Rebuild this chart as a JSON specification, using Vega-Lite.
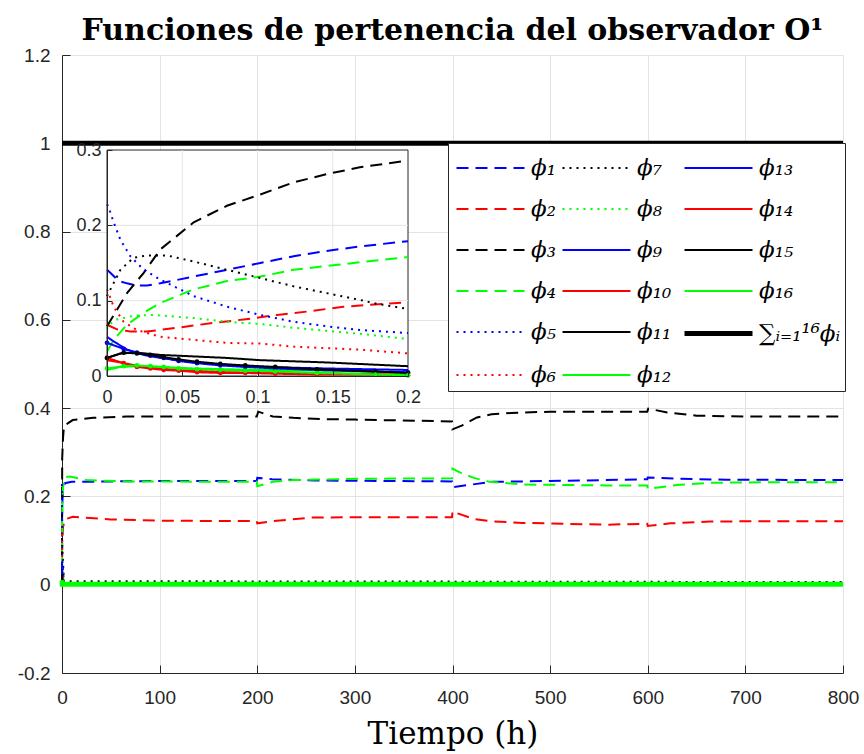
{
  "$schema": "https://vega.github.io/schema/vega-lite/v6.json",
  "width": 781,
  "height": 618,
  "autosize": {"type": "none"},
  "padding": {"left": 62, "top": 55, "right": 21, "bottom": 81},
  "background": "white",
  "title": {"text": "Funciones de pertenencia del observador O¹", "font": "DejaVu Serif", "fontSize": 30, "fontWeight": "bold", "color": "#000000", "anchor": "middle", "offset": 0},
  "config": {
    "view": {"stroke": null},
    "axis": {"domainColor": "#262626", "tickColor": "#262626", "labelColor": "#262626", "labelFont": "Liberation Sans", "labelFontSize": 19, "titleFont": "DejaVu Serif", "titleFontWeight": "normal", "titleColor": "#000000", "titleFontSize": 31, "gridColor": "#e3e3e3", "tickSize": -8, "labelPadding": 20, "labelOverlap": false, "labelFlush": false}
  },
  "datasets": {
    "main": [
      {"s": "ϕ₁", "t": 0, "v": 0.141}, {"s": "ϕ₁", "t": 0.2, "v": 0.179}, {"s": "ϕ₁", "t": 1, "v": 0.215}, {"s": "ϕ₁", "t": 3, "v": 0.23}, {"s": "ϕ₁", "t": 10, "v": 0.233}, {"s": "ϕ₁", "t": 100, "v": 0.235}, {"s": "ϕ₁", "t": 199.5, "v": 0.235}, {"s": "ϕ₁", "t": 200, "v": 0.242}, {"s": "ϕ₁", "t": 215, "v": 0.239}, {"s": "ϕ₁", "t": 260, "v": 0.236}, {"s": "ϕ₁", "t": 399.5, "v": 0.234}, {"s": "ϕ₁", "t": 400, "v": 0.221}, {"s": "ϕ₁", "t": 420, "v": 0.227}, {"s": "ϕ₁", "t": 440, "v": 0.233}, {"s": "ϕ₁", "t": 470, "v": 0.234}, {"s": "ϕ₁", "t": 530, "v": 0.236}, {"s": "ϕ₁", "t": 599.5, "v": 0.239}, {"s": "ϕ₁", "t": 600, "v": 0.243}, {"s": "ϕ₁", "t": 630, "v": 0.24}, {"s": "ϕ₁", "t": 680, "v": 0.238}, {"s": "ϕ₁", "t": 800, "v": 0.237},
      {"s": "ϕ₂", "t": 0, "v": 0.068}, {"s": "ϕ₂", "t": 0.2, "v": 0.098}, {"s": "ϕ₂", "t": 1, "v": 0.13}, {"s": "ϕ₂", "t": 3, "v": 0.148}, {"s": "ϕ₂", "t": 11, "v": 0.154}, {"s": "ϕ₂", "t": 50, "v": 0.148}, {"s": "ϕ₂", "t": 100, "v": 0.145}, {"s": "ϕ₂", "t": 199.5, "v": 0.144}, {"s": "ϕ₂", "t": 200, "v": 0.139}, {"s": "ϕ₂", "t": 216, "v": 0.144}, {"s": "ϕ₂", "t": 255, "v": 0.152}, {"s": "ϕ₂", "t": 300, "v": 0.153}, {"s": "ϕ₂", "t": 399.5, "v": 0.153}, {"s": "ϕ₂", "t": 400, "v": 0.167}, {"s": "ϕ₂", "t": 406, "v": 0.161}, {"s": "ϕ₂", "t": 422, "v": 0.149}, {"s": "ϕ₂", "t": 438, "v": 0.144}, {"s": "ϕ₂", "t": 472, "v": 0.14}, {"s": "ϕ₂", "t": 557, "v": 0.136}, {"s": "ϕ₂", "t": 599.5, "v": 0.138}, {"s": "ϕ₂", "t": 600, "v": 0.133}, {"s": "ϕ₂", "t": 623, "v": 0.139}, {"s": "ϕ₂", "t": 664, "v": 0.143}, {"s": "ϕ₂", "t": 715, "v": 0.144}, {"s": "ϕ₂", "t": 800, "v": 0.144},
      {"s": "ϕ₃", "t": 0, "v": 0.066}, {"s": "ϕ₃", "t": 0.2, "v": 0.286}, {"s": "ϕ₃", "t": 1, "v": 0.33}, {"s": "ϕ₃", "t": 2, "v": 0.36}, {"s": "ϕ₃", "t": 11, "v": 0.373}, {"s": "ϕ₃", "t": 32, "v": 0.378}, {"s": "ϕ₃", "t": 66, "v": 0.381}, {"s": "ϕ₃", "t": 199.5, "v": 0.381}, {"s": "ϕ₃", "t": 201, "v": 0.392}, {"s": "ϕ₃", "t": 216, "v": 0.381}, {"s": "ϕ₃", "t": 237, "v": 0.378}, {"s": "ϕ₃", "t": 271, "v": 0.375}, {"s": "ϕ₃", "t": 300, "v": 0.374}, {"s": "ϕ₃", "t": 399.5, "v": 0.37}, {"s": "ϕ₃", "t": 400, "v": 0.352}, {"s": "ϕ₃", "t": 410, "v": 0.361}, {"s": "ϕ₃", "t": 425, "v": 0.379}, {"s": "ϕ₃", "t": 440, "v": 0.386}, {"s": "ϕ₃", "t": 460, "v": 0.389}, {"s": "ϕ₃", "t": 500, "v": 0.392}, {"s": "ϕ₃", "t": 599.5, "v": 0.392}, {"s": "ϕ₃", "t": 600.5, "v": 0.399}, {"s": "ϕ₃", "t": 620, "v": 0.39}, {"s": "ϕ₃", "t": 650, "v": 0.383}, {"s": "ϕ₃", "t": 700, "v": 0.381}, {"s": "ϕ₃", "t": 800, "v": 0.381},
      {"s": "ϕ₄", "t": 0, "v": 0.032}, {"s": "ϕ₄", "t": 0.2, "v": 0.158}, {"s": "ϕ₄", "t": 1, "v": 0.22}, {"s": "ϕ₄", "t": 3, "v": 0.244}, {"s": "ϕ₄", "t": 8, "v": 0.245}, {"s": "ϕ₄", "t": 25, "v": 0.237}, {"s": "ϕ₄", "t": 66, "v": 0.234}, {"s": "ϕ₄", "t": 199.5, "v": 0.233}, {"s": "ϕ₄", "t": 200, "v": 0.223}, {"s": "ϕ₄", "t": 216, "v": 0.233}, {"s": "ϕ₄", "t": 237, "v": 0.237}, {"s": "ϕ₄", "t": 305, "v": 0.24}, {"s": "ϕ₄", "t": 399.5, "v": 0.241}, {"s": "ϕ₄", "t": 400, "v": 0.263}, {"s": "ϕ₄", "t": 408, "v": 0.254}, {"s": "ϕ₄", "t": 422, "v": 0.242}, {"s": "ϕ₄", "t": 438, "v": 0.233}, {"s": "ϕ₄", "t": 472, "v": 0.227}, {"s": "ϕ₄", "t": 557, "v": 0.225}, {"s": "ϕ₄", "t": 599.5, "v": 0.225}, {"s": "ϕ₄", "t": 600, "v": 0.217}, {"s": "ϕ₄", "t": 630, "v": 0.226}, {"s": "ϕ₄", "t": 664, "v": 0.231}, {"s": "ϕ₄", "t": 715, "v": 0.232}, {"s": "ϕ₄", "t": 800, "v": 0.232},
      {"s": "ϕ₅", "t": 0, "v": 0.228}, {"s": "ϕ₅", "t": 0.2, "v": 0.057}, {"s": "ϕ₅", "t": 2, "v": 0.004}, {"s": "ϕ₅", "t": 800, "v": 0.003},
      {"s": "ϕ₆", "t": 0, "v": 0.115}, {"s": "ϕ₆", "t": 0.2, "v": 0.03}, {"s": "ϕ₆", "t": 2, "v": 0.003}, {"s": "ϕ₆", "t": 800, "v": 0.002},
      {"s": "ϕ₇", "t": 0, "v": 0.106}, {"s": "ϕ₇", "t": 0.2, "v": 0.089}, {"s": "ϕ₇", "t": 2, "v": 0.008}, {"s": "ϕ₇", "t": 800, "v": 0.006},
      {"s": "ϕ₈", "t": 0, "v": 0.062}, {"s": "ϕ₈", "t": 0.2, "v": 0.049}, {"s": "ϕ₈", "t": 2, "v": 0.004}, {"s": "ϕ₈", "t": 800, "v": 0.003},
      {"s": "ϕ₉", "t": 0, "v": 0.052}, {"s": "ϕ₉", "t": 0.2, "v": 0.008}, {"s": "ϕ₉", "t": 2, "v": 0.001}, {"s": "ϕ₉", "t": 800, "v": 0.001},
      {"s": "ϕ₁₀", "t": 0, "v": 0.021}, {"s": "ϕ₁₀", "t": 0.2, "v": 0.002}, {"s": "ϕ₁₀", "t": 2, "v": 0.001}, {"s": "ϕ₁₀", "t": 800, "v": 0.001},
      {"s": "ϕ₁₁", "t": 0, "v": 0.024}, {"s": "ϕ₁₁", "t": 0.2, "v": 0.013}, {"s": "ϕ₁₁", "t": 2, "v": 0.002}, {"s": "ϕ₁₁", "t": 800, "v": 0.002},
      {"s": "ϕ₁₂", "t": 0, "v": 0.008}, {"s": "ϕ₁₂", "t": 0.2, "v": 0.004}, {"s": "ϕ₁₂", "t": 2, "v": 0.001}, {"s": "ϕ₁₂", "t": 800, "v": 0.001},
      {"s": "ϕ₁₃", "t": 0, "v": 0.044}, {"s": "ϕ₁₃", "t": 0.2, "v": 0.005}, {"s": "ϕ₁₃", "t": 2, "v": 0.001}, {"s": "ϕ₁₃", "t": 800, "v": 0.001},
      {"s": "ϕ₁₄", "t": 0, "v": 0.024}, {"s": "ϕ₁₄", "t": 0.2, "v": 0.001}, {"s": "ϕ₁₄", "t": 2, "v": 0.001}, {"s": "ϕ₁₄", "t": 800, "v": 0.001},
      {"s": "ϕ₁₅", "t": 0, "v": 0.024}, {"s": "ϕ₁₅", "t": 0.2, "v": 0.004}, {"s": "ϕ₁₅", "t": 2, "v": 0.001}, {"s": "ϕ₁₅", "t": 800, "v": 0.001},
      {"s": "ϕ₁₆", "t": 0, "v": 0.01}, {"s": "ϕ₁₆", "t": 0.2, "v": 0.001}, {"s": "ϕ₁₆", "t": 2, "v": 0.001}, {"s": "ϕ₁₆", "t": 800, "v": 0.001},
      {"s": "∑ᵢ₌₁¹⁶ϕᵢ", "t": 0, "v": 1}, {"s": "∑ᵢ₌₁¹⁶ϕᵢ", "t": 800, "v": 1}
    ],
    "ins": [
      {"s": "ϕ₁", "t": 0, "v": 0.141}, {"s": "ϕ₁", "t": 0.0022, "v": 0.137}, {"s": "ϕ₁", "t": 0.0078, "v": 0.126}, {"s": "ϕ₁", "t": 0.0133, "v": 0.123}, {"s": "ϕ₁", "t": 0.02, "v": 0.12}, {"s": "ϕ₁", "t": 0.0266, "v": 0.12}, {"s": "ϕ₁", "t": 0.0354, "v": 0.123}, {"s": "ϕ₁", "t": 0.0576, "v": 0.132}, {"s": "ϕ₁", "t": 0.0797, "v": 0.141}, {"s": "ϕ₁", "t": 0.1019, "v": 0.15}, {"s": "ϕ₁", "t": 0.124, "v": 0.159}, {"s": "ϕ₁", "t": 0.146, "v": 0.166}, {"s": "ϕ₁", "t": 0.168, "v": 0.172}, {"s": "ϕ₁", "t": 0.2, "v": 0.179},
      {"s": "ϕ₂", "t": 0, "v": 0.068}, {"s": "ϕ₂", "t": 0.0066, "v": 0.062}, {"s": "ϕ₂", "t": 0.0155, "v": 0.059}, {"s": "ϕ₂", "t": 0.0266, "v": 0.059}, {"s": "ϕ₂", "t": 0.0465, "v": 0.064}, {"s": "ϕ₂", "t": 0.0687, "v": 0.07}, {"s": "ϕ₂", "t": 0.0908, "v": 0.075}, {"s": "ϕ₂", "t": 0.113, "v": 0.081}, {"s": "ϕ₂", "t": 0.135, "v": 0.086}, {"s": "ϕ₂", "t": 0.157, "v": 0.092}, {"s": "ϕ₂", "t": 0.2, "v": 0.098},
      {"s": "ϕ₃", "t": 0, "v": 0.066}, {"s": "ϕ₃", "t": 0.0133, "v": 0.11}, {"s": "ϕ₃", "t": 0.0244, "v": 0.137}, {"s": "ϕ₃", "t": 0.0354, "v": 0.168}, {"s": "ϕ₃", "t": 0.0576, "v": 0.204}, {"s": "ϕ₃", "t": 0.0797, "v": 0.226}, {"s": "ϕ₃", "t": 0.1019, "v": 0.241}, {"s": "ϕ₃", "t": 0.124, "v": 0.257}, {"s": "ϕ₃", "t": 0.146, "v": 0.268}, {"s": "ϕ₃", "t": 0.168, "v": 0.277}, {"s": "ϕ₃", "t": 0.2, "v": 0.286},
      {"s": "ϕ₄", "t": 0, "v": 0.032}, {"s": "ϕ₄", "t": 0.0044, "v": 0.048}, {"s": "ϕ₄", "t": 0.0133, "v": 0.068}, {"s": "ϕ₄", "t": 0.0244, "v": 0.084}, {"s": "ϕ₄", "t": 0.0354, "v": 0.097}, {"s": "ϕ₄", "t": 0.0576, "v": 0.115}, {"s": "ϕ₄", "t": 0.0797, "v": 0.126}, {"s": "ϕ₄", "t": 0.1019, "v": 0.132}, {"s": "ϕ₄", "t": 0.124, "v": 0.141}, {"s": "ϕ₄", "t": 0.146, "v": 0.146}, {"s": "ϕ₄", "t": 0.168, "v": 0.151}, {"s": "ϕ₄", "t": 0.2, "v": 0.158},
      {"s": "ϕ₅", "t": 0, "v": 0.228}, {"s": "ϕ₅", "t": 0.0011, "v": 0.224}, {"s": "ϕ₅", "t": 0.0044, "v": 0.204}, {"s": "ϕ₅", "t": 0.0089, "v": 0.181}, {"s": "ϕ₅", "t": 0.0155, "v": 0.159}, {"s": "ϕ₅", "t": 0.0244, "v": 0.141}, {"s": "ϕ₅", "t": 0.0354, "v": 0.128}, {"s": "ϕ₅", "t": 0.0576, "v": 0.106}, {"s": "ϕ₅", "t": 0.0797, "v": 0.092}, {"s": "ϕ₅", "t": 0.1019, "v": 0.081}, {"s": "ϕ₅", "t": 0.124, "v": 0.072}, {"s": "ϕ₅", "t": 0.146, "v": 0.066}, {"s": "ϕ₅", "t": 0.168, "v": 0.061}, {"s": "ϕ₅", "t": 0.2, "v": 0.057},
      {"s": "ϕ₆", "t": 0, "v": 0.115}, {"s": "ϕ₆", "t": 0.0011, "v": 0.11}, {"s": "ϕ₆", "t": 0.0044, "v": 0.092}, {"s": "ϕ₆", "t": 0.011, "v": 0.072}, {"s": "ϕ₆", "t": 0.02, "v": 0.061}, {"s": "ϕ₆", "t": 0.0354, "v": 0.052}, {"s": "ϕ₆", "t": 0.0576, "v": 0.048}, {"s": "ϕ₆", "t": 0.0797, "v": 0.044}, {"s": "ϕ₆", "t": 0.1019, "v": 0.043}, {"s": "ϕ₆", "t": 0.124, "v": 0.039}, {"s": "ϕ₆", "t": 0.146, "v": 0.037}, {"s": "ϕ₆", "t": 0.168, "v": 0.035}, {"s": "ϕ₆", "t": 0.2, "v": 0.03},
      {"s": "ϕ₇", "t": 0, "v": 0.106}, {"s": "ϕ₇", "t": 0.0089, "v": 0.141}, {"s": "ϕ₇", "t": 0.0177, "v": 0.157}, {"s": "ϕ₇", "t": 0.0266, "v": 0.16}, {"s": "ϕ₇", "t": 0.0399, "v": 0.16}, {"s": "ϕ₇", "t": 0.0576, "v": 0.152}, {"s": "ϕ₇", "t": 0.0797, "v": 0.141}, {"s": "ϕ₇", "t": 0.1019, "v": 0.13}, {"s": "ϕ₇", "t": 0.124, "v": 0.119}, {"s": "ϕ₇", "t": 0.146, "v": 0.11}, {"s": "ϕ₇", "t": 0.168, "v": 0.101}, {"s": "ϕ₇", "t": 0.179, "v": 0.096}, {"s": "ϕ₇", "t": 0.2, "v": 0.089},
      {"s": "ϕ₈", "t": 0, "v": 0.062}, {"s": "ϕ₈", "t": 0.0011, "v": 0.068}, {"s": "ϕ₈", "t": 0.0066, "v": 0.075}, {"s": "ϕ₈", "t": 0.0177, "v": 0.08}, {"s": "ϕ₈", "t": 0.031, "v": 0.081}, {"s": "ϕ₈", "t": 0.0576, "v": 0.077}, {"s": "ϕ₈", "t": 0.0797, "v": 0.072}, {"s": "ϕ₈", "t": 0.1019, "v": 0.069}, {"s": "ϕ₈", "t": 0.124, "v": 0.064}, {"s": "ϕ₈", "t": 0.146, "v": 0.06}, {"s": "ϕ₈", "t": 0.168, "v": 0.056}, {"s": "ϕ₈", "t": 0.2, "v": 0.049},
      {"s": "ϕ₉", "t": 0, "v": 0.052}, {"s": "ϕ₉", "t": 0.0044, "v": 0.046}, {"s": "ϕ₉", "t": 0.0133, "v": 0.035}, {"s": "ϕ₉", "t": 0.0244, "v": 0.028}, {"s": "ϕ₉", "t": 0.0354, "v": 0.024}, {"s": "ϕ₉", "t": 0.0576, "v": 0.018}, {"s": "ϕ₉", "t": 0.0797, "v": 0.015}, {"s": "ϕ₉", "t": 0.1019, "v": 0.012}, {"s": "ϕ₉", "t": 0.146, "v": 0.01}, {"s": "ϕ₉", "t": 0.2, "v": 0.008},
      {"s": "ϕ₁₀", "t": 0, "v": 0.021}, {"s": "ϕ₁₀", "t": 0.0089, "v": 0.018}, {"s": "ϕ₁₀", "t": 0.0244, "v": 0.012}, {"s": "ϕ₁₀", "t": 0.0465, "v": 0.008}, {"s": "ϕ₁₀", "t": 0.0797, "v": 0.005}, {"s": "ϕ₁₀", "t": 0.124, "v": 0.004}, {"s": "ϕ₁₀", "t": 0.2, "v": 0.002},
      {"s": "ϕ₁₁", "t": 0, "v": 0.024}, {"s": "ϕ₁₁", "t": 0.0089, "v": 0.03}, {"s": "ϕ₁₁", "t": 0.02, "v": 0.031}, {"s": "ϕ₁₁", "t": 0.0354, "v": 0.028}, {"s": "ϕ₁₁", "t": 0.0576, "v": 0.026}, {"s": "ϕ₁₁", "t": 0.0797, "v": 0.024}, {"s": "ϕ₁₁", "t": 0.1019, "v": 0.021}, {"s": "ϕ₁₁", "t": 0.146, "v": 0.018}, {"s": "ϕ₁₁", "t": 0.2, "v": 0.013},
      {"s": "ϕ₁₂", "t": 0, "v": 0.008}, {"s": "ϕ₁₂", "t": 0.0089, "v": 0.012}, {"s": "ϕ₁₂", "t": 0.02, "v": 0.013}, {"s": "ϕ₁₂", "t": 0.0354, "v": 0.012}, {"s": "ϕ₁₂", "t": 0.0576, "v": 0.01}, {"s": "ϕ₁₂", "t": 0.1019, "v": 0.008}, {"s": "ϕ₁₂", "t": 0.146, "v": 0.007}, {"s": "ϕ₁₂", "t": 0.2, "v": 0.004},
      {"s": "ϕ₁₃", "t": 0, "v": 0.044}, {"s": "ϕ₁₃", "t": 0.0111, "v": 0.036}, {"s": "ϕ₁₃", "t": 0.0199, "v": 0.031}, {"s": "ϕ₁₃", "t": 0.0288, "v": 0.027}, {"s": "ϕ₁₃", "t": 0.0377, "v": 0.024}, {"s": "ϕ₁₃", "t": 0.0476, "v": 0.02}, {"s": "ϕ₁₃", "t": 0.0598, "v": 0.017}, {"s": "ϕ₁₃", "t": 0.0753, "v": 0.014}, {"s": "ϕ₁₃", "t": 0.0919, "v": 0.012}, {"s": "ϕ₁₃", "t": 0.1118, "v": 0.01}, {"s": "ϕ₁₃", "t": 0.1395, "v": 0.008}, {"s": "ϕ₁₃", "t": 0.1783, "v": 0.006}, {"s": "ϕ₁₃", "t": 0.2, "v": 0.005},
      {"s": "ϕ₁₄", "t": 0, "v": 0.024}, {"s": "ϕ₁₄", "t": 0.0111, "v": 0.017}, {"s": "ϕ₁₄", "t": 0.0199, "v": 0.012}, {"s": "ϕ₁₄", "t": 0.0288, "v": 0.01}, {"s": "ϕ₁₄", "t": 0.0377, "v": 0.008}, {"s": "ϕ₁₄", "t": 0.0476, "v": 0.007}, {"s": "ϕ₁₄", "t": 0.0598, "v": 0.005}, {"s": "ϕ₁₄", "t": 0.0753, "v": 0.004}, {"s": "ϕ₁₄", "t": 0.0919, "v": 0.004}, {"s": "ϕ₁₄", "t": 0.1118, "v": 0.003}, {"s": "ϕ₁₄", "t": 0.1395, "v": 0.002}, {"s": "ϕ₁₄", "t": 0.1783, "v": 0.002}, {"s": "ϕ₁₄", "t": 0.2, "v": 0.001},
      {"s": "ϕ₁₅", "t": 0, "v": 0.024}, {"s": "ϕ₁₅", "t": 0.0111, "v": 0.031}, {"s": "ϕ₁₅", "t": 0.0199, "v": 0.03}, {"s": "ϕ₁₅", "t": 0.0288, "v": 0.028}, {"s": "ϕ₁₅", "t": 0.0377, "v": 0.025}, {"s": "ϕ₁₅", "t": 0.0476, "v": 0.022}, {"s": "ϕ₁₅", "t": 0.0598, "v": 0.019}, {"s": "ϕ₁₅", "t": 0.0753, "v": 0.016}, {"s": "ϕ₁₅", "t": 0.0919, "v": 0.014}, {"s": "ϕ₁₅", "t": 0.1118, "v": 0.012}, {"s": "ϕ₁₅", "t": 0.1395, "v": 0.009}, {"s": "ϕ₁₅", "t": 0.1783, "v": 0.006}, {"s": "ϕ₁₅", "t": 0.2, "v": 0.004},
      {"s": "ϕ₁₆", "t": 0, "v": 0.01}, {"s": "ϕ₁₆", "t": 0.0111, "v": 0.013}, {"s": "ϕ₁₆", "t": 0.0199, "v": 0.014}, {"s": "ϕ₁₆", "t": 0.0288, "v": 0.013}, {"s": "ϕ₁₆", "t": 0.0377, "v": 0.012}, {"s": "ϕ₁₆", "t": 0.0476, "v": 0.01}, {"s": "ϕ₁₆", "t": 0.0598, "v": 0.009}, {"s": "ϕ₁₆", "t": 0.0753, "v": 0.008}, {"s": "ϕ₁₆", "t": 0.0919, "v": 0.007}, {"s": "ϕ₁₆", "t": 0.1118, "v": 0.006}, {"s": "ϕ₁₆", "t": 0.1395, "v": 0.004}, {"s": "ϕ₁₆", "t": 0.1783, "v": 0.002}, {"s": "ϕ₁₆", "t": 0.2, "v": 0.001}
    ]
  },
  "layer": [
    {
      "data": {"name": "main"},
      "mark": {"type": "line", "strokeCap": "butt"},
      "encoding": {
        "x": {"field": "t", "type": "quantitative", "scale": {"domain": [0, 800], "nice": false, "zero": false}, "axis": {"orient": "bottom", "values": [0, 100, 200, 300, 400, 500, 600, 700, 800], "format": "d", "grid": true, "title": "Tiempo (h)", "titlePadding": 12, "labelPadding": 23}},
        "y": {"field": "v", "type": "quantitative", "scale": {"domain": [-0.2, 1.2], "nice": false, "zero": false}, "axis": {"orient": "left", "values": [-0.2, 0, 0.2, 0.4, 0.6, 0.8, 1, 1.2], "grid": true, "title": null, "labelPadding": 20, "labelExpr": "datum.value < 0 ? '-' + format(-datum.value, '.1~f') : format(datum.value, '.1~f')"}},
        "color": {"field": "s", "type": "nominal", "scale": {"domain": ["ϕ₁", "ϕ₂", "ϕ₃", "ϕ₄", "ϕ₅", "ϕ₆", "ϕ₇", "ϕ₈", "ϕ₉", "ϕ₁₀", "ϕ₁₁", "ϕ₁₂", "ϕ₁₃", "ϕ₁₄", "ϕ₁₅", "ϕ₁₆", "∑ᵢ₌₁¹⁶ϕᵢ"], "range": ["#0000ff", "#ff0000", "#000000", "#00ff00", "#0000ff", "#ff0000", "#000000", "#00ff00", "#0000ff", "#ff0000", "#000000", "#00ff00", "#0000ff", "#ff0000", "#000000", "#00ff00", "#000000"]}, "legend": {"title": null, "orient": "none", "legendX": 386, "legendY": 88, "columns": 3, "symbolType": "M-1.7,0H1.7", "symbolSize": 1600, "symbolOffset": 16, "labelFont": "DejaVu Serif", "labelFontSize": 23, "labelFontStyle": "italic", "labelColor": "#000000", "fillColor": "white", "strokeColor": "#262626", "padding": 4, "labelOffset": 18, "labelLimit": 0, "columnPadding": 2, "rowPadding": 8}},
        "strokeDash": {"field": "s", "type": "nominal", "scale": {"domain": ["ϕ₁", "ϕ₂", "ϕ₃", "ϕ₄", "ϕ₅", "ϕ₆", "ϕ₇", "ϕ₈", "ϕ₉", "ϕ₁₀", "ϕ₁₁", "ϕ₁₂", "ϕ₁₃", "ϕ₁₄", "ϕ₁₅", "ϕ₁₆", "∑ᵢ₌₁¹⁶ϕᵢ"], "range": [[12, 7], [12, 7], [12, 7], [12, 7], [2, 5], [2, 5], [2, 5], [2, 5], [1, 0], [1, 0], [1, 0], [1, 0], [1, 0], [1, 0], [1, 0], [1, 0], [1, 0]]}},
        "strokeWidth": {"field": "s", "type": "nominal", "scale": {"type": "ordinal", "domain": ["ϕ₁", "ϕ₂", "ϕ₃", "ϕ₄", "ϕ₅", "ϕ₆", "ϕ₇", "ϕ₈", "ϕ₉", "ϕ₁₀", "ϕ₁₁", "ϕ₁₂", "ϕ₁₃", "ϕ₁₄", "ϕ₁₅", "ϕ₁₆", "∑ᵢ₌₁¹⁶ϕᵢ"], "range": [2, 2, 2, 2, 2, 2, 2, 2, 2, 2, 2, 2, 2, 2, 2, 2, 5]}}
      }
    },
    {
      "data": {"name": "main"},
      "transform": [{"filter": "datum.s == 'ϕ₁₆'"}],
      "mark": {"type": "line", "color": "#00ff00", "strokeWidth": 5},
      "encoding": {
        "x": {"field": "t", "type": "quantitative", "scale": {"domain": [0, 800], "nice": false, "zero": false}, "axis": null},
        "y": {"field": "v", "type": "quantitative", "scale": {"domain": [-0.2, 1.2], "nice": false, "zero": false}, "axis": null}
      }
    },
    {
      "data": {"values": [{}]},
      "mark": {"type": "rect", "fill": "white", "stroke": "#262626", "strokeWidth": 1},
      "encoding": {
        "x": {"datum": 0, "type": "quantitative", "scale": {"domain": [0, 0.2], "range": [45, 346], "nice": false, "zero": false}, "axis": null},
        "x2": {"datum": 0.2},
        "y": {"datum": 0, "type": "quantitative", "scale": {"domain": [0, 0.3], "range": [321, 95], "nice": false, "zero": false}, "axis": null},
        "y2": {"datum": 0.3}
      }
    },
    {"data": {"values": [{}]}, "mark": {"type": "rule", "color": "#e3e3e3"}, "encoding": {"x": {"datum": 0.05, "type": "quantitative", "scale": {"domain": [0, 0.2], "range": [45, 346], "nice": false, "zero": false}, "axis": null}, "y": {"datum": 0, "type": "quantitative", "scale": {"domain": [0, 0.3], "range": [321, 95], "nice": false, "zero": false}, "axis": null}, "y2": {"datum": 0.3}}},
    {"data": {"values": [{}]}, "mark": {"type": "rule", "color": "#e3e3e3"}, "encoding": {"x": {"datum": 0.1, "type": "quantitative", "scale": {"domain": [0, 0.2], "range": [45, 346], "nice": false, "zero": false}, "axis": null}, "y": {"datum": 0, "type": "quantitative", "scale": {"domain": [0, 0.3], "range": [321, 95], "nice": false, "zero": false}, "axis": null}, "y2": {"datum": 0.3}}},
    {"data": {"values": [{}]}, "mark": {"type": "rule", "color": "#e3e3e3"}, "encoding": {"x": {"datum": 0.15, "type": "quantitative", "scale": {"domain": [0, 0.2], "range": [45, 346], "nice": false, "zero": false}, "axis": null}, "y": {"datum": 0, "type": "quantitative", "scale": {"domain": [0, 0.3], "range": [321, 95], "nice": false, "zero": false}, "axis": null}, "y2": {"datum": 0.3}}},
    {"data": {"values": [{}]}, "mark": {"type": "rule", "color": "#e3e3e3"}, "encoding": {"y": {"datum": 0.1, "type": "quantitative", "scale": {"domain": [0, 0.3], "range": [321, 95], "nice": false, "zero": false}, "axis": null}, "x": {"datum": 0, "type": "quantitative", "scale": {"domain": [0, 0.2], "range": [45, 346], "nice": false, "zero": false}, "axis": null}, "x2": {"datum": 0.2}}},
    {"data": {"values": [{}]}, "mark": {"type": "rule", "color": "#e3e3e3"}, "encoding": {"y": {"datum": 0.2, "type": "quantitative", "scale": {"domain": [0, 0.3], "range": [321, 95], "nice": false, "zero": false}, "axis": null}, "x": {"datum": 0, "type": "quantitative", "scale": {"domain": [0, 0.2], "range": [45, 346], "nice": false, "zero": false}, "axis": null}, "x2": {"datum": 0.2}}},
    {
      "data": {"name": "ins"},
      "mark": {"type": "line", "strokeCap": "butt"},
      "encoding": {
        "x": {"field": "t", "type": "quantitative", "scale": {"domain": [0, 0.2], "range": [45, 346], "nice": false, "zero": false}, "axis": {"orient": "bottom", "values": [0, 0.05, 0.1, 0.15, 0.2], "format": "~g", "grid": false, "title": null, "offset": -297, "labelFontSize": 18, "labelPadding": 17, "tickSize": -5, "zindex": 1}},
        "y": {"field": "v", "type": "quantitative", "scale": {"domain": [0, 0.3], "range": [321, 95], "nice": false, "zero": false}, "axis": {"orient": "left", "values": [0, 0.1, 0.2, 0.3], "format": "~g", "grid": false, "title": null, "offset": -45, "labelFontSize": 18, "labelPadding": 11, "tickSize": -5, "zindex": 1}},
        "color": {"field": "s", "type": "nominal", "scale": {"domain": ["ϕ₁", "ϕ₂", "ϕ₃", "ϕ₄", "ϕ₅", "ϕ₆", "ϕ₇", "ϕ₈", "ϕ₉", "ϕ₁₀", "ϕ₁₁", "ϕ₁₂", "ϕ₁₃", "ϕ₁₄", "ϕ₁₅", "ϕ₁₆", "∑ᵢ₌₁¹⁶ϕᵢ"], "range": ["#0000ff", "#ff0000", "#000000", "#00ff00", "#0000ff", "#ff0000", "#000000", "#00ff00", "#0000ff", "#ff0000", "#000000", "#00ff00", "#0000ff", "#ff0000", "#000000", "#00ff00", "#000000"]}},
        "strokeDash": {"field": "s", "type": "nominal", "scale": {"domain": ["ϕ₁", "ϕ₂", "ϕ₃", "ϕ₄", "ϕ₅", "ϕ₆", "ϕ₇", "ϕ₈", "ϕ₉", "ϕ₁₀", "ϕ₁₁", "ϕ₁₂", "ϕ₁₃", "ϕ₁₄", "ϕ₁₅", "ϕ₁₆", "∑ᵢ₌₁¹⁶ϕᵢ"], "range": [[12, 7], [12, 7], [12, 7], [12, 7], [2, 5], [2, 5], [2, 5], [2, 5], [1, 0], [1, 0], [1, 0], [1, 0], [1, 0], [1, 0], [1, 0], [1, 0], [1, 0]]}},
        "strokeWidth": {"field": "s", "type": "nominal", "scale": {"type": "ordinal", "domain": ["ϕ₁", "ϕ₂", "ϕ₃", "ϕ₄", "ϕ₅", "ϕ₆", "ϕ₇", "ϕ₈", "ϕ₉", "ϕ₁₀", "ϕ₁₁", "ϕ₁₂", "ϕ₁₃", "ϕ₁₄", "ϕ₁₅", "ϕ₁₆", "∑ᵢ₌₁¹⁶ϕᵢ"], "range": [2, 2, 2, 2, 2, 2, 2, 2, 2, 2, 2, 2, 2, 2, 2, 2, 5]}}
      }
    },
    {
      "data": {"name": "ins"},
      "transform": [{"filter": "datum.s == 'ϕ₁₃' || datum.s == 'ϕ₁₄' || datum.s == 'ϕ₁₅' || datum.s == 'ϕ₁₆'"}],
      "mark": {"type": "circle", "size": 22, "opacity": 1},
      "encoding": {
        "x": {"field": "t", "type": "quantitative", "scale": {"domain": [0, 0.2], "range": [45, 346], "nice": false, "zero": false}, "axis": null},
        "y": {"field": "v", "type": "quantitative", "scale": {"domain": [0, 0.3], "range": [321, 95], "nice": false, "zero": false}, "axis": null},
        "color": {"field": "s", "type": "nominal", "legend": null}
      }
    }
  ],
  "resolve": {"scale": {"x": "independent", "y": "independent"}, "axis": {"x": "independent", "y": "independent"}}
}
